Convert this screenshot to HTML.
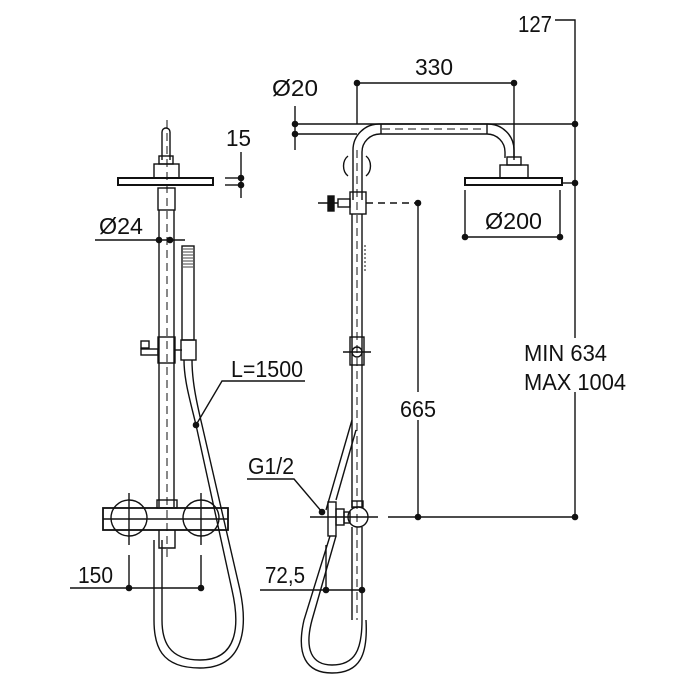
<!DOCTYPE html>
<html><head><meta charset="utf-8"><style>
html,body{margin:0;padding:0;background:#fff;}
svg{display:block}
text{font-family:"Liberation Sans",sans-serif;font-size:23px;fill:#111}
</style></head><body>
<svg width="700" height="700" viewBox="0 0 700 700" xmlns="http://www.w3.org/2000/svg">
<g stroke="#111" stroke-width="1.4" fill="none">
<path d="M162 160 V132 a4 4 0 0 1 8 0 V160"/>
<rect x="159" y="156" width="14" height="8"/>
<rect x="154" y="164" width="25" height="14"/>
<rect x="118" y="178" width="95" height="7" stroke-width="2"/>
<rect x="158" y="188" width="17" height="22"/>
<line x1="159" y1="210" x2="159" y2="507"/>
<line x1="174" y1="210" x2="174" y2="507"/>
<line x1="167" y1="120" x2="167" y2="560" stroke-dasharray="8 5" stroke-width="1"/>
<rect x="158" y="337" width="17" height="26"/>
<rect x="141" y="341" width="8" height="7"/>
<rect x="141" y="349" width="17" height="6"/>
<line x1="175" y1="350" x2="182" y2="350"/>
<rect x="182" y="246" width="12" height="94"/>
<g stroke-width="0.8"><line x1="183" y1="249" x2="193" y2="249"/><line x1="183" y1="252" x2="193" y2="252"/><line x1="183" y1="255" x2="193" y2="255"/><line x1="183" y1="258" x2="193" y2="258"/><line x1="183" y1="261" x2="193" y2="261"/><line x1="183" y1="264" x2="193" y2="264"/><line x1="183" y1="267" x2="193" y2="267"/></g>
<rect x="181" y="340" width="15" height="20"/>
<path d="M184 360 C184 380 190 400 196 425 L232 590 C240 625 238 660 200 660 C168 660 162 640 162 620 V540"/>
<path d="M192 360 C192 380 196 400 202 425 L240 590 C248 628 244 668 200 668 C160 668 154 645 154 620 V540"/>
<rect x="103" y="508" width="125" height="22" stroke-width="1.8"/>
<line x1="103" y1="519" x2="228" y2="519"/>
<circle cx="129" cy="518" r="18"/>
<circle cx="201" cy="518" r="18"/>
<line x1="129" y1="493" x2="129" y2="545"/><line x1="201" y1="493" x2="201" y2="545"/>
<rect x="157" y="500" width="20" height="8"/>
<path d="M159 530 V548 H175 V530"/>
<line x1="241" y1="152" x2="241" y2="198"/>
<line x1="225" y1="178" x2="241" y2="178"/><line x1="225" y1="185" x2="241" y2="185"/>
<line x1="95" y1="240" x2="185" y2="240"/>
<line x1="70" y1="588" x2="201" y2="588"/>
<line x1="129" y1="555" x2="129" y2="588"/><line x1="201" y1="555" x2="201" y2="588"/>
<polyline points="305,381 222,381 196,425"/>

<path d="M353 200 V150 a26 26 0 0 1 26 -26 H488 a26 26 0 0 1 26 26 V158"/>
<path d="M362 200 V152 a18 18 0 0 1 18 -18 H487 a18 18 0 0 1 18 18 V158"/>
<line x1="381" y1="124" x2="381" y2="134"/><line x1="487" y1="124" x2="487" y2="134"/>
<line x1="382" y1="129" x2="485" y2="129" stroke-dasharray="8 5" stroke-width="1"/>
<path d="M348 156 a10 12 0 0 0 0 20 M366 156 a10 12 0 0 1 0 20"/>
<rect x="507" y="157" width="14" height="8"/>
<rect x="500" y="165" width="28" height="13"/>
<rect x="465" y="178" width="97" height="7" stroke-width="2"/>
<rect x="350" y="192" width="16" height="22"/>
<line x1="352" y1="214" x2="352" y2="508"/><line x1="362" y1="214" x2="362" y2="508"/>
<line x1="357" y1="150" x2="357" y2="620" stroke-dasharray="8 5" stroke-width="1"/>
<line x1="365" y1="245" x2="365" y2="272" stroke-dasharray="2 2" stroke-width="1"/>
<rect x="338" y="199" width="12" height="8"/>
<rect x="328" y="196" width="6" height="15" fill="#111"/>
<line x1="318" y1="203" x2="338" y2="203"/>
<line x1="366" y1="203" x2="418" y2="203" stroke-dasharray="7 5"/>
<rect x="350" y="337" width="14" height="28"/>
<circle cx="357" cy="352" r="5"/>
<line x1="343" y1="352" x2="371" y2="352"/>
<rect x="328" y="502" width="8" height="34"/>
<rect x="336" y="509" width="8" height="16"/>
<rect x="344" y="512" width="6" height="11"/>
<circle cx="358" cy="517" r="10"/>
<rect x="352" y="501" width="11" height="6"/>
<path d="M352 527 V620 M362 527 V620"/>
<path d="M336 536 L312 620 C304 650 312 665 332 665 C355 665 362 650 362 620"/>
<path d="M330 536 L304 620 C296 655 306 673 332 673 C360 673 368 655 366 620"/>
<path d="M326 510 L352 420"/>
<path d="M336 500 L356 430"/>
<line x1="357" y1="83" x2="514" y2="83"/>
<line x1="357" y1="83" x2="357" y2="124"/><line x1="514" y1="83" x2="514" y2="160"/>
<line x1="295" y1="106" x2="295" y2="150"/>
<line x1="295" y1="124" x2="575" y2="124"/>
<line x1="295" y1="134" x2="357" y2="134"/>
<polyline points="555,20 575,20 575,338"/>
<line x1="575" y1="392" x2="575" y2="517"/>
<line x1="562" y1="183" x2="575" y2="183"/>
<line x1="465" y1="237" x2="560" y2="237"/>
<line x1="465" y1="190" x2="465" y2="237"/><line x1="560" y1="190" x2="560" y2="237"/>
<line x1="418" y1="203" x2="418" y2="392"/><line x1="418" y1="420" x2="418" y2="517"/>
<line x1="388" y1="517" x2="575" y2="517"/>
<line x1="310" y1="517" x2="378" y2="517"/>
<polyline points="247,479 294,479 322,512"/>
<line x1="260" y1="590" x2="362" y2="590"/>
<line x1="326" y1="545" x2="326" y2="590"/>
</g>
<g fill="#111">
<circle cx="241" cy="178" r="3.3"/><circle cx="241" cy="185" r="3.3"/>
<circle cx="159" cy="240" r="3.3"/><circle cx="170" cy="240" r="3.3"/>
<circle cx="129" cy="588" r="3.3"/><circle cx="201" cy="588" r="3.3"/>
<circle cx="196" cy="425" r="3.3"/>
<circle cx="357" cy="83" r="3.3"/><circle cx="514" cy="83" r="3.3"/>
<circle cx="295" cy="124" r="3.3"/><circle cx="295" cy="134" r="3.3"/>
<circle cx="575" cy="124" r="3.3"/><circle cx="575" cy="183" r="3.3"/><circle cx="575" cy="517" r="3.3"/>
<circle cx="465" cy="237" r="3.3"/><circle cx="560" cy="237" r="3.3"/>
<circle cx="418" cy="203" r="3.3"/><circle cx="418" cy="517" r="3.3"/>
<circle cx="322" cy="512" r="3.3"/>
<circle cx="326" cy="590" r="3.3"/><circle cx="362" cy="590" r="3.3"/>
</g>
<text x="226" y="146" textLength="25" lengthAdjust="spacingAndGlyphs">15</text>
<text x="99" y="234" textLength="44" lengthAdjust="spacingAndGlyphs">Ø24</text>
<text x="231" y="377" textLength="72" lengthAdjust="spacingAndGlyphs">L=1500</text>
<text x="78" y="583" textLength="35" lengthAdjust="spacingAndGlyphs">150</text>
<text x="248" y="474" textLength="46" lengthAdjust="spacingAndGlyphs">G1/2</text>
<text x="265" y="583" textLength="40" lengthAdjust="spacingAndGlyphs">72,5</text>
<text x="272" y="96" textLength="46" lengthAdjust="spacingAndGlyphs">Ø20</text>
<text x="415" y="75" textLength="38" lengthAdjust="spacingAndGlyphs">330</text>
<text x="518" y="32" textLength="34" lengthAdjust="spacingAndGlyphs">127</text>
<text x="485" y="229" textLength="57" lengthAdjust="spacingAndGlyphs">Ø200</text>
<text x="400" y="417" textLength="36" lengthAdjust="spacingAndGlyphs">665</text>
<text x="524" y="361" textLength="83" lengthAdjust="spacingAndGlyphs">MIN 634</text>
<text x="524" y="390" textLength="102" lengthAdjust="spacingAndGlyphs">MAX 1004</text>
</svg>
</body></html>
